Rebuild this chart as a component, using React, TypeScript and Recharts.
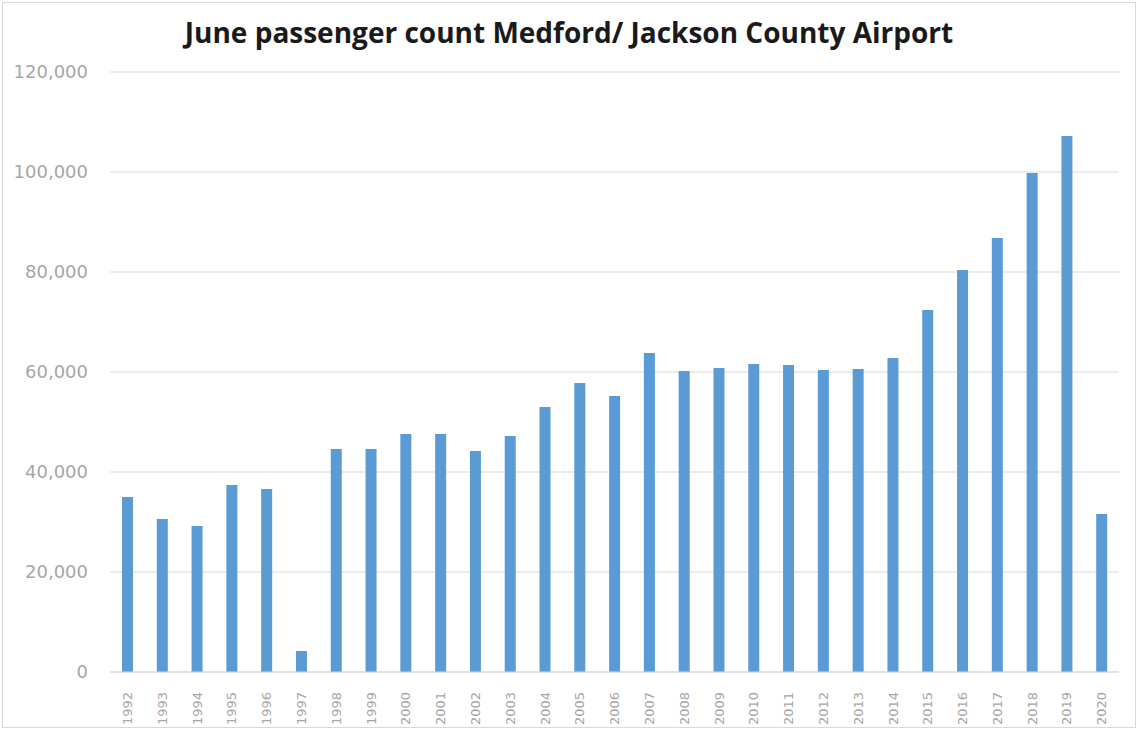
import { BarChart, Bar, XAxis, YAxis, CartesianGrid } from 'recharts';

const years = [
  '1992', '1993', '1994', '1995', '1996', '1997', '1998', '1999', '2000', '2001',
  '2002', '2003', '2004', '2005', '2006', '2007', '2008', '2009', '2010', '2011',
  '2012', '2013', '2014', '2015', '2016', '2017', '2018', '2019', '2020',
];
const passengers = [
  35000, 30600, 29200, 37400, 36600, 4200, 44600, 44600, 47600, 47600,
  44200, 47200, 53000, 57800, 55200, 63800, 60200, 60800, 61600, 61400,
  60400, 60600, 62800, 72400, 80400, 86800, 99800, 107200, 31600,
];
const yTicks = [0, 20000, 40000, 60000, 80000, 100000, 120000];

const data = years.map((year, i) => ({ year, value: passengers[i] }));

const labelColor = '#a6a6a6';
const gridColor = '#d9d9d9';

function YearTick({ x, y, payload }: any) {
  return (
    <g transform={`translate(${x},${y})`}>
      <text
        transform="rotate(-90)"
        x={-12}
        dy="0.36em"
        textAnchor="end"
        fill={labelColor}
        fontSize={13}
        fontFamily="DejaVu Sans"
      >
        {payload.value}
      </text>
    </g>
  );
}

export default function App() {
  return (
    <div
      style={{
        position: 'absolute',
        left: 0,
        top: 0,
        width: 1138,
        height: 730,
        background: '#fff',
      }}
    >
      <div
        style={{
          position: 'absolute',
          left: 2,
          top: 2,
          width: 1132,
          height: 724,
          border: '1px solid #d9d9d9',
        }}
      />
      <div
        style={{
          position: 'absolute',
          left: 0,
          top: 13,
          width: 1138,
          textAlign: 'center',
          fontFamily: 'Open Sans',
          fontWeight: 'bold',
          fontSize: 28,
          color: '#1a1a1a',
        }}
      >
        June passenger count Medford/ Jackson County Airport
      </div>
      <BarChart
        width={1138}
        height={730}
        data={data}
        margin={{ top: 72, right: 19, bottom: 0, left: 0 }}
        style={{ position: 'absolute', left: 0, top: 0 }}
      >
        <CartesianGrid stroke={gridColor} vertical={false} />
        <XAxis
          dataKey="year"
          height={58}
          tickLine={false}
          axisLine={{ stroke: gridColor }}
          interval={0}
          tick={<YearTick />}
        />
        <YAxis
          width={110}
          domain={[0, 120000]}
          ticks={yTicks}
          axisLine={false}
          tickLine={false}
          tickSize={0}
          tickMargin={22}
          tickFormatter={(v: number) => v.toLocaleString('en-US')}
          tick={{ fill: labelColor, fontSize: 18, fontFamily: 'DejaVu Sans' }}
        />
        <Bar dataKey="value" fill="#5b9bd5" barSize={11} isAnimationActive={false} />
      </BarChart>
    </div>
  );
}
